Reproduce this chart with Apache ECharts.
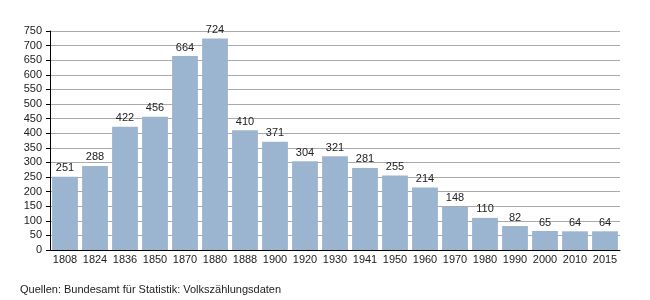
<!DOCTYPE html>
<html><head><meta charset="utf-8">
<script src="https://cdn.jsdelivr.net/npm/echarts@6/dist/echarts.min.js"></script>
<style>html,body{margin:0;padding:0;background:#fff}#c{width:650px;height:300px}</style>
</head><body><div id="c"></div>
<script>
const years = ['1808','1824','1836','1850','1870','1880','1888','1900','1920','1930','1941','1950','1960','1970','1980','1990','2000','2010','2015'];
const population = [251,288,422,456,664,724,410,371,304,321,281,255,214,148,110,82,65,64,64];
const yTicks = {min:0, max:750, interval:50};
const sourceText = 'Quellen: Bundesamt für Statistik: Volkszählungsdaten';

const chart = echarts.init(document.getElementById('c'), null, {renderer:'canvas'});
const font = 'Liberation Sans, Arial, sans-serif';
chart.setOption({
  animation:false,
  grid:{left:50, right:30, top:31, bottom:50},
  xAxis:{type:'category', data:years,
    axisLine:{lineStyle:{color:'#000', width:1}},
    axisTick:{show:false},
    axisLabel:{interval:0, color:'#222', fontSize:11, fontFamily:font, margin:4}},
  yAxis:{type:'value', min:yTicks.min, max:yTicks.max, interval:yTicks.interval,
    axisLine:{show:true, lineStyle:{color:'#000', width:1}},
    axisTick:{show:true, length:4, lineStyle:{color:'#000'}},
    splitLine:{lineStyle:{color:'#aaa', width:1}},
    axisLabel:{color:'#222', fontSize:11, fontFamily:font, margin:8}},
  series:[{type:'bar', data:population, barCategoryGap:'14%',
    itemStyle:{color:'#9bb4cf'},
    label:{show:true, position:'top', color:'#222', fontSize:11, fontFamily:font, distance:3}}],
  graphic:[{type:'text', left:20, top:284, style:{text:sourceText, fill:'#222', font:'11px Liberation Sans, Arial, sans-serif'}}]
});
</script></body></html>
